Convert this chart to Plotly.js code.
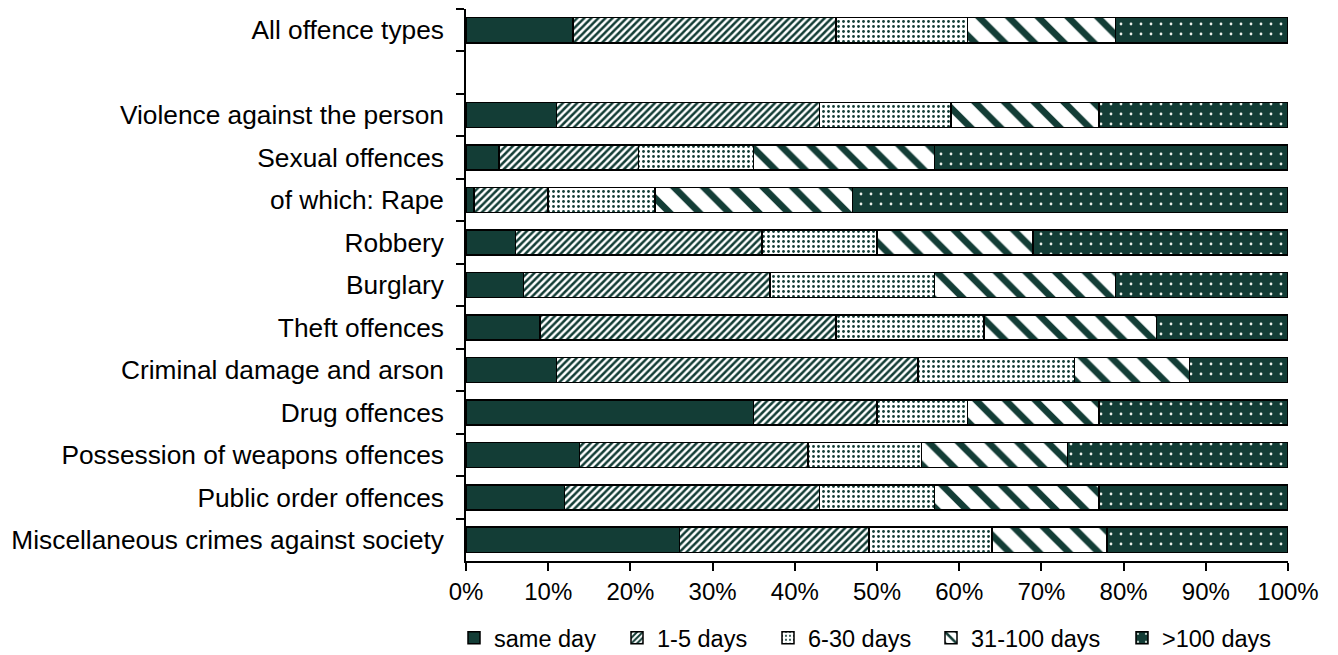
<!DOCTYPE html>
<html>
<head>
<meta charset="utf-8">
<script src="https://cdn.plot.ly/plotly-3.0.1.min.js"></script>
<style>
  html, body { margin: 0; padding: 0; background: #fff; }
  #chart { width: 1338px; height: 655px; }
</style>
</head>
<body>
<div id="chart"></div>
<script>
// Categories (top to bottom); " " is the blank spacer row
const categories = [
  "All offence types",
  " ",
  "Violence against the person",
  "Sexual offences",
  "of which: Rape",
  "Robbery",
  "Burglary",
  "Theft offences",
  "Criminal damage and arson",
  "Drug offences",
  "Possession of weapons offences",
  "Public order offences",
  "Miscellaneous crimes against society"
];
const rowLabels = categories.filter(c => c !== " ");

const seriesNames = ["same day", "1-5 days", "6-30 days", "31-100 days", ">100 days"];

// Percentages per row label (same order as rowLabels)
const sameDay     = [13, 11,  4,  1,  6,  7,  9, 11, 35, 13.8, 12, 26];
const days1to5    = [32, 32, 17,  9, 30, 30, 36, 44, 15, 27.8, 31, 23];
const days6to30   = [16, 16, 14, 13, 14, 20, 18, 19, 11, 13.8, 14, 15];
const days31to100 = [18, 18, 22, 24, 19, 22, 21, 14, 16, 17.8, 20, 14];
const over100     = [21, 23, 43, 53, 31, 21, 16, 12, 23, 26.8, 23, 22];

const xTickVals = [0, 10, 20, 30, 40, 50, 60, 70, 80, 90, 100];

const GREEN = "#133d36";
const FONT = "Liberation Sans, Arial, sans-serif";

const patterns = [
  { shape: "", bgcolor: GREEN },
  { shape: "/", fgcolor: GREEN, bgcolor: "#ffffff", size: 5, solidity: 0.5 },
  { shape: ".", fgcolor: GREEN, bgcolor: "#ffffff", size: 5, solidity: 0.24 },
  { shape: "\\", fgcolor: GREEN, bgcolor: "#ffffff", size: 21, solidity: 0.32 },
  { shape: ".", fgcolor: "#e8efe9", bgcolor: GREEN, size: 10, solidity: 0.06 }
];
const values = [sameDay, days1to5, days6to30, days31to100, over100];

// legend square left edges (px) in the reference
const legendSquareX = [468, 631, 782, 945, 1136];

const traces = values.map((vals, i) => {
  const p = patterns[i];
  const marker = {
    color: p.bgcolor,
    line: { color: "#000000", width: 1.5 }
  };
  if (p.shape) {
    marker.pattern = {
      shape: p.shape, fgcolor: p.fgcolor, bgcolor: p.bgcolor,
      size: p.size, solidity: p.solidity, fillmode: "replace"
    };
  }
  return {
    type: "bar",
    orientation: "h",
    name: seriesNames[i],
    legend: i === 0 ? "legend" : "legend" + (i + 1),
    y: rowLabels,
    x: vals,
    marker: marker,
    hoverinfo: "x+y+name"
  };
});

const layout = {
  width: 1338,
  height: 655,
  margin: { l: 466, r: 50, t: 9, b: 94 },
  barmode: "stack",
  bargap: 0.41,
  paper_bgcolor: "#ffffff",
  plot_bgcolor: "#ffffff",
  font: { family: FONT, size: 24, color: "#000000" },
  showlegend: true,
  xaxis: {
    range: [0, 100],
    tickvals: xTickVals,
    ticktext: xTickVals.map(v => v + "%"),
    showgrid: false,
    zeroline: false,
    showline: true,
    linecolor: "#000000",
    linewidth: 1.5,
    ticks: "outside",
    ticklen: 8,
    tickwidth: 1.5,
    tickcolor: "#000000",
    tickfont: { family: FONT, size: 24, color: "#000000" },
    fixedrange: true
  },
  yaxis: {
    type: "category",
    categoryorder: "array",
    categoryarray: categories,
    range: [categories.length - 0.5, -0.5],
    showgrid: false,
    zeroline: false,
    showline: true,
    linecolor: "#000000",
    linewidth: 1.5,
    ticks: "outside",
    tickson: "boundaries",
    ticklen: 8,
    tickwidth: 1.5,
    tickcolor: "#000000",
    ticklabelstandoff: 15,
    tickfont: { family: FONT, size: 26.3, color: "#000000" },
    fixedrange: true
  }
};

legendSquareX.forEach((px, i) => {
  const key = i === 0 ? "legend" : "legend" + (i + 1);
  layout[key] = {
    orientation: "h",
    xref: "container", yref: "container",
    x: (px - 14) / 1338, xanchor: "left",
    y: 1 - 638 / 655, yanchor: "middle",
    bgcolor: "rgba(0,0,0,0)",
    borderwidth: 0,
    itemwidth: 30,
    font: { family: FONT, size: 23.5, color: "#000000" }
  };
});

Plotly.newPlot("chart", traces, layout, { displayModeBar: false });
</script>
</body>
</html>
